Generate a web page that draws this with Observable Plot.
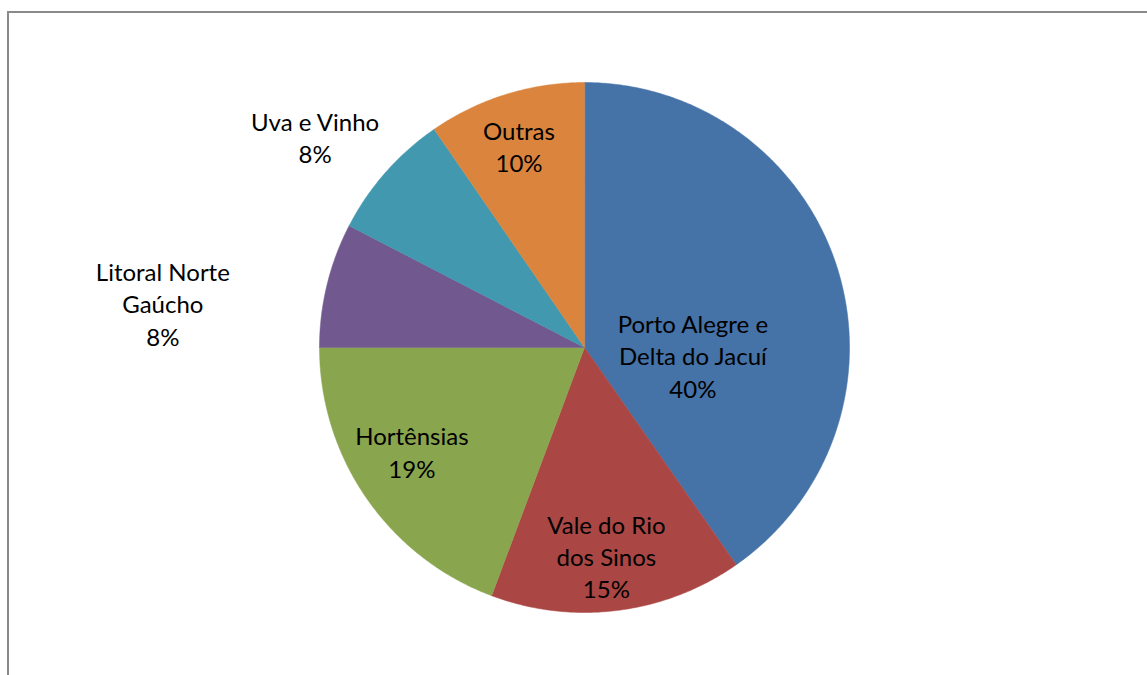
<!DOCTYPE html>
<html>
<head>
<meta charset="utf-8">
<script src="https://cdn.jsdelivr.net/npm/d3@7"></script>
<script src="https://cdn.jsdelivr.net/npm/@observablehq/plot@0.6"></script>
<style>
  html, body { margin: 0; padding: 0; background: #fff; }
  #wrap { position: relative; width: 1147px; height: 675px; overflow: hidden; }
  #frame { position: absolute; left: 7px; top: 11px; width: 1200px; height: 700px;
           border-left: 2px solid #8a8a8a; border-top: 2px solid #8a8a8a; box-sizing: border-box; }
  #chart { position: absolute; left: 0; top: 0; }
</style>
</head>
<body>
<div id="wrap"><div id="frame"></div><div id="chart"></div></div>
<script>
// Data
const categories = ["Porto Alegre e Delta do Jacuí", "Vale do Rio dos Sinos", "Hortênsias", "Litoral Norte Gaúcho", "Uva e Vinho", "Outras"];
const labelLines = ["Porto Alegre e\nDelta do Jacuí", "Vale do Rio\ndos Sinos", "Hortênsias", "Litoral Norte\nGaúcho", "Uva e Vinho", "Outras"];
const values = [40.3, 15.4, 19.3, 7.6, 7.8, 9.6];
const colors = ["#4572A7", "#AA4643", "#89A54E", "#71588F", "#4198AF", "#DB843D"];

// Layout (label anchor: angle in degrees clockwise from 12 o'clock, radius as fraction of pie radius)
const labelAngle = [94, 174, 239, 276, 308, 342];
const labelRadius = [0.41, 0.79, 0.76, 1.60, 1.29, 0.80];

const total = d3.sum(values);
const arcs = d3.pie().sort(null).value(d => d)(values);

const slicePts = [];
arcs.forEach((a, i) => {
  const name = categories[i];
  slicePts.push({name, x: 0, y: 0});
  const n = Math.max(2, Math.ceil((a.endAngle - a.startAngle) / (Math.PI / 360)));
  for (let k = 0; k <= n; k++) {
    const t = a.startAngle + (a.endAngle - a.startAngle) * k / n;
    slicePts.push({name, x: Math.sin(t), y: Math.cos(t)});
  }
});

const labels = categories.map((c, i) => {
  const t = labelAngle[i] * Math.PI / 180;
  const r = labelRadius[i];
  return {
    name: c,
    x: r * Math.sin(t),
    y: r * Math.cos(t),
    text: labelLines[i] + "\n" + Math.round(values[i] / total * 100) + "%"
  };
});

const chart = Plot.plot({
  width: 1147,
  height: 675,
  marginLeft: 319,
  marginRight: 298,
  marginTop: 82,
  marginBottom: 63,
  x: {domain: [-1, 1], axis: null},
  y: {domain: [-1, 1], axis: null},
  color: {domain: categories, range: colors},
  style: {fontFamily: "Lato, 'Open Sans', sans-serif", background: "transparent"},
  marks: [
    Plot.line(slicePts, {x: "x", y: "y", z: "name", fill: "name", stroke: "name", strokeWidth: 0.5, curve: "linear-closed"}),
    Plot.text(labels, {x: "x", y: "y", text: "text", fontSize: 24, lineHeight: 1.34, lineAnchor: "middle", textAnchor: "middle", fill: "#000"})
  ]
});
document.getElementById("chart").appendChild(chart);
</script>
</body>
</html>
